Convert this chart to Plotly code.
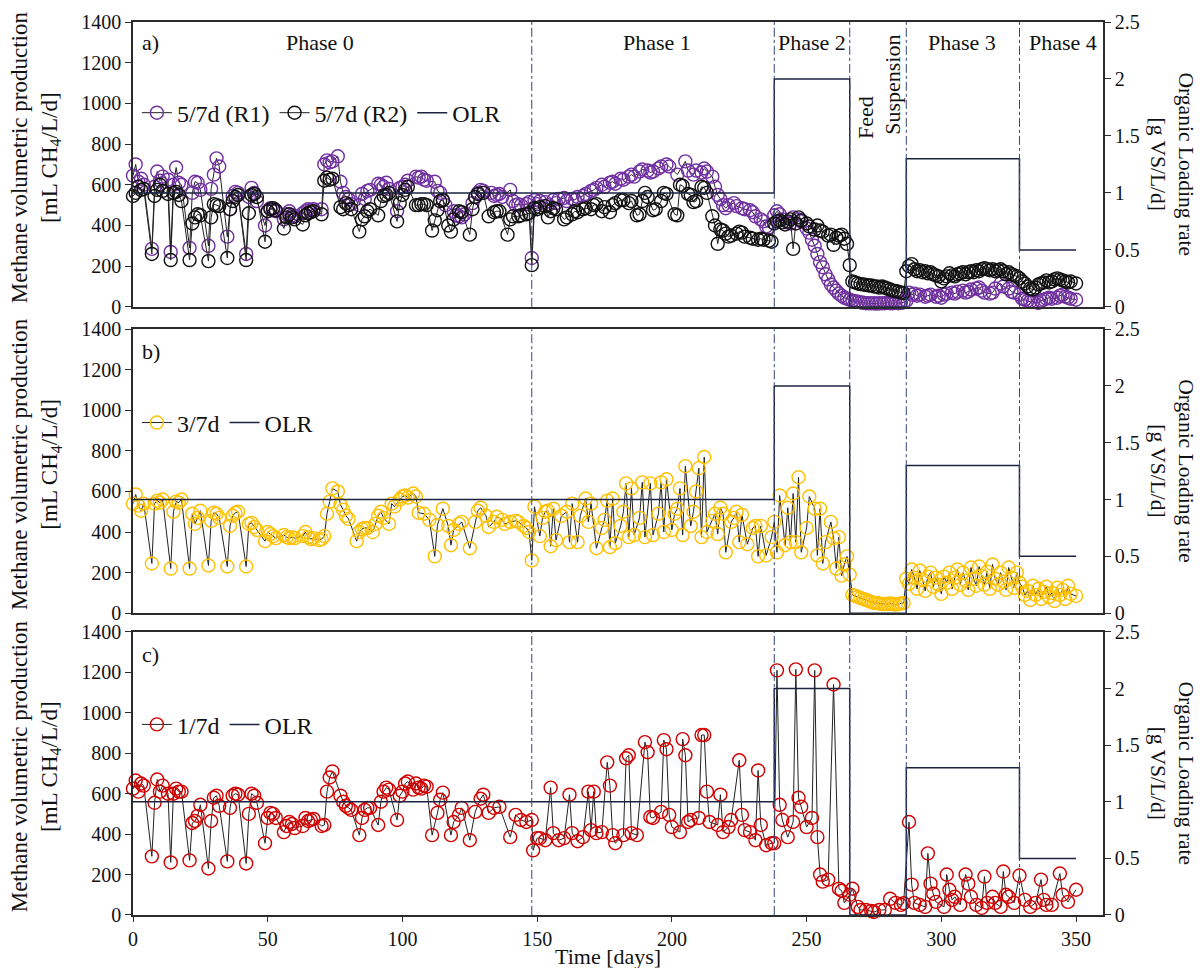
import plotly.graph_objects as go

# ---------------- DATA ----------------
# Organic loading rate steps (day, g VS/L/d)
olr_days = [0, 238, 266, 287, 329, 350]
olr_vals = [1.0, 2.0, 0.0, 1.3, 0.5, 0.5]

phase_bounds = [148, 238, 266, 287, 329]

# a) 5/7d R1 (day, mL CH4/L/d)
r1_pts = [(0,645),(1,700),(2,615),(3,630),(4,600),(7,285),(8,590),(9,665),(10,620),(11,640),(13,625),(14,270),(15,600),(16,685),(17,610),(18,600),(21,290),(22,560),(23,615),(24,610),(25,575),(28,300),(29,580),(30,650),(31,730),(32,690),(35,345),(36,480),(37,545),(38,565),(39,560),(42,260),(43,540),(44,585),(45,560),(46,520),(49,400),(50,470),(51,485),(52,475),(53,470),(56,430),(57,455),(58,470),(59,450),(60,445),(63,460),(64,470),(65,480),(66,475),(67,480),(70,480),(71,700),(72,720),(73,710),(74,715),(76,740),(77,615),(78,560),(79,540),(80,530),(81,505),(84,500),(85,555),(86,530),(87,570),(88,575),(91,605),(92,600),(93,590),(94,610),(95,580),(98,470),(99,585),(100,590),(101,600),(102,620),(105,640),(106,635),(107,640),(108,625),(109,620),(112,615),(113,570),(114,560),(115,525),(116,500),(119,470),(120,450),(121,445),(122,440),(123,455),(126,510),(127,540),(128,560),(129,575),(130,570),(133,560),(134,545),(135,550),(136,555),(137,540),(140,575),(141,520),(142,500),(143,505),(144,500),(146,505),(147,515),(148,240),(149,525),(150,505),(151,520),(153,515),(154,500),(156,525),(157,510),(158,530),(160,535),(161,520),(163,530),(164,525),(165,540),(167,545),(168,555),(170,570),(171,575),(172,585),(174,600),(175,590),(177,610),(178,615),(179,605),(181,630),(182,625),(184,640),(185,650),(186,640),(188,665),(189,675),(191,670),(192,660),(193,665),(195,680),(196,690),(198,700),(199,690),(202,650),(205,715),(206,670),(208,650),(209,670),(211,660),(212,680),(213,665),(215,640),(216,590),(217,550),(218,530),(219,500),(220,485),(221,500),(223,510),(224,495),(226,485),(227,480),(229,475),(230,465),(231,445),(233,430),(234,420),(235,395),(236,390),(238,450),(239,470),(240,455),(241,430),(243,415),(244,410),(245,440),(247,430),(248,420),(250,385),(251,365),(252,330),(253,300),(254,260),(255,220),(256,195),(257,160),(258,135),(259,110),(260,95),(261,80),(262,65),(263,55),(264,45),(265,40),(266,35),(267,30),(268,28),(269,25),(270,22),(271,20),(272,18),(273,18),(274,17),(275,18),(276,16),(277,18),(278,17),(279,18),(280,20),(281,18),(282,18),(283,20),(284,18),(285,20),(286,22),(287,30),(288,70),(289,60),(290,65),(291,55),(292,60),(294,50),(295,55),(296,60),(298,50),(299,55),(300,45),(301,60),(302,65),(304,70),(305,65),(306,75),(308,80),(309,70),(310,75),(311,85),(313,90),(314,95),(315,80),(316,70),(318,65),(319,70),(320,90),(322,115),(323,100),(325,90),(326,75),(327,70),(329,60),(330,40),(331,35),(332,30),(333,25),(334,25),(336,20),(337,30),(338,35),(339,40),(340,45),(341,40),(343,45),(344,55),(345,60),(346,50),(347,45),(348,40),(350,35)]

# a) 5/7d R2
r2_pts = [(0,545),(1,560),(2,590),(3,575),(4,580),(7,260),(8,545),(9,575),(10,600),(11,570),(13,555),(14,230),(15,560),(16,565),(17,550),(18,520),(21,230),(22,410),(23,440),(24,455),(25,450),(28,225),(29,440),(30,505),(31,500),(32,495),(35,240),(36,480),(37,520),(38,540),(39,550),(42,230),(43,460),(44,550),(45,555),(46,540),(49,320),(50,470),(51,480),(52,485),(53,475),(56,385),(57,440),(58,455),(59,440),(60,430),(63,405),(64,450),(65,460),(66,465),(67,470),(70,455),(71,620),(72,635),(73,625),(74,630),(77,490),(78,480),(79,510),(80,500),(81,480),(84,370),(85,430),(86,445),(87,470),(88,480),(91,450),(92,520),(93,545),(94,550),(95,560),(98,420),(99,510),(100,550),(101,575),(102,590),(105,500),(106,500),(107,505),(108,505),(109,500),(111,375),(112,425),(113,475),(114,520),(115,525),(117,400),(118,370),(119,430),(121,470),(122,465),(125,355),(126,480),(127,540),(128,555),(130,560),(132,445),(134,465),(135,470),(136,470),(139,355),(140,430),(141,445),(143,445),(144,450),(146,455),(147,460),(148,205),(149,485),(150,480),(151,490),(153,495),(154,440),(155,470),(156,485),(157,480),(160,430),(161,440),(163,455),(164,470),(165,465),(167,480),(168,485),(170,480),(171,500),(172,505),(174,470),(175,490),(177,465),(178,500),(179,510),(181,525),(182,525),(184,510),(185,520),(187,450),(188,455),(189,520),(190,560),(191,540),(193,475),(194,480),(196,520),(197,560),(198,555),(201,455),(202,450),(203,600),(204,595),(206,555),(207,550),(208,515),(209,520),(211,590),(212,585),(213,560),(215,445),(216,400),(217,310),(218,380),(219,375),(220,360),(221,345),(222,350),(224,360),(225,370),(226,365),(227,345),(229,340),(230,335),(232,330),(233,335),(234,330),(236,325),(237,320),(238,410),(239,420),(240,425),(241,415),(242,405),(243,420),(244,430),(245,285),(246,410),(247,440),(248,425),(250,410),(251,395),(253,380),(254,400),(255,375),(256,370),(258,350),(259,355),(260,305),(261,340),(262,350),(263,355),(264,335),(265,310),(266,205),(267,125),(268,120),(269,115),(270,112),(271,110),(272,108),(273,105),(274,105),(275,100),(276,100),(277,95),(278,100),(279,95),(280,90),(281,85),(282,80),(283,78),(284,75),(285,70),(286,68),(287,175),(288,200),(289,210),(290,185),(291,175),(292,180),(293,170),(294,175),(295,165),(296,170),(297,160),(298,155),(299,150),(300,125),(301,140),(302,150),(303,165),(304,155),(305,150),(306,160),(307,165),(308,170),(309,160),(310,170),(311,175),(312,170),(313,180),(314,175),(315,185),(316,190),(317,185),(318,180),(319,185),(320,175),(321,180),(322,185),(323,175),(324,160),(325,170),(326,160),(327,155),(328,150),(329,140),(330,125),(331,115),(332,100),(333,90),(334,85),(335,95),(336,110),(337,115),(338,120),(339,130),(340,120),(341,125),(342,135),(343,140),(344,135),(345,130),(346,125),(347,120),(348,125),(350,115)]

# b) 3/7d
b_pts = [(0,540),(1,585),(2,530),(3,505),(4,540),(7,245),(8,540),(9,555),(10,545),(11,560),(14,220),(15,500),(16,550),(17,545),(18,560),(21,220),(22,490),(23,440),(24,470),(25,505),(28,235),(29,455),(30,495),(31,490),(32,470),(35,230),(36,430),(37,480),(38,495),(39,500),(42,230),(43,440),(44,445),(45,425),(46,410),(49,355),(50,400),(51,390),(52,380),(53,370),(56,385),(57,375),(58,370),(59,375),(60,370),(63,380),(64,400),(65,375),(66,365),(67,370),(69,360),(70,365),(71,380),(72,490),(73,550),(74,615),(76,600),(77,535),(78,510),(79,480),(80,465),(83,355),(84,400),(85,415),(86,420),(87,420),(89,400),(90,440),(91,480),(92,500),(93,470),(95,440),(96,540),(97,525),(99,560),(100,575),(101,580),(102,570),(104,590),(105,575),(106,495),(108,490),(110,460),(112,280),(113,435),(115,515),(117,430),(118,335),(119,410),(121,440),(122,450),(125,320),(127,450),(128,505),(129,520),(131,480),(132,425),(134,450),(135,475),(137,460),(138,440),(140,450),(142,455),(143,450),(145,430),(146,420),(147,400),(148,260),(149,525),(151,380),(152,470),(153,500),(154,505),(155,330),(156,515),(157,360),(159,480),(161,500),(162,350),(163,540),(165,350),(166,480),(168,565),(169,450),(170,540),(172,320),(174,420),(175,460),(176,555),(177,325),(178,565),(179,345),(181,430),(182,500),(183,640),(184,375),(185,615),(186,385),(188,470),(189,645),(190,375),(192,640),(193,385),(195,490),(196,645),(197,400),(198,660),(200,410),(201,490),(202,515),(203,615),(204,385),(205,725),(207,430),(208,500),(209,600),(210,715),(211,375),(212,770),(213,400),(215,455),(216,490),(217,390),(218,520),(219,490),(220,300),(222,450),(223,470),(224,500),(225,350),(226,485),(228,340),(230,420),(231,430),(232,280),(233,430),(235,285),(237,375),(238,450),(239,300),(240,580),(242,335),(243,520),(244,350),(245,590),(246,350),(247,670),(248,300),(250,420),(251,575),(253,515),(254,285),(255,515),(256,245),(257,350),(259,450),(260,370),(261,220),(262,375),(263,185),(264,240),(265,280),(266,190),(267,90),(268,85),(269,80),(270,75),(271,70),(272,65),(273,60),(274,55),(275,50),(276,50),(277,48),(278,45),(279,45),(280,45),(281,48),(282,45),(283,42),(284,45),(285,48),(286,50),(287,170),(288,145),(289,215),(290,175),(291,120),(292,210),(293,165),(294,110),(295,180),(296,200),(297,130),(298,175),(299,140),(300,95),(301,180),(302,150),(303,200),(304,120),(305,175),(306,215),(307,140),(308,200),(309,160),(310,115),(311,225),(312,170),(313,135),(314,230),(315,185),(316,140),(317,205),(318,120),(319,240),(320,170),(321,140),(322,200),(323,155),(324,115),(325,225),(326,175),(327,125),(328,200),(329,150),(330,130),(331,90),(332,110),(333,65),(334,135),(335,90),(336,120),(337,70),(338,105),(339,130),(340,80),(341,100),(342,60),(343,125),(344,90),(345,115),(346,70),(347,135),(348,95),(350,85)]

# c) 1/7d
c_pts = [(0,625),(1,665),(2,610),(3,650),(4,640),(7,290),(8,555),(9,670),(10,610),(11,640),(13,600),(14,260),(15,600),(16,625),(17,610),(18,610),(21,270),(22,455),(23,465),(24,490),(25,545),(28,230),(29,465),(30,580),(31,590),(32,540),(35,265),(36,530),(37,590),(38,600),(39,595),(42,255),(43,500),(44,600),(45,590),(46,555),(49,355),(50,480),(51,505),(52,500),(53,480),(56,410),(57,440),(58,460),(59,450),(60,430),(63,440),(64,480),(65,465),(66,470),(67,475),(70,440),(71,445),(72,610),(73,680),(74,710),(77,590),(78,560),(79,540),(80,530),(81,520),(84,395),(85,480),(86,520),(87,530),(88,530),(91,445),(92,560),(93,610),(94,630),(95,620),(98,470),(99,590),(100,610),(101,650),(102,660),(104,620),(105,650),(106,630),(107,625),(108,640),(109,635),(111,395),(113,505),(114,570),(115,605),(118,395),(119,460),(121,495),(122,530),(125,370),(127,510),(129,575),(130,595),(132,505),(134,530),(136,535),(140,385),(142,495),(144,470),(146,460),(148,470),(148.5,320),(150,380),(151,380),(153,370),(155,630),(156,405),(158,370),(160,380),(162,595),(163,405),(165,365),(167,385),(169,610),(170,420),(171,610),(172,405),(174,410),(176,755),(177,640),(178,395),(179,355),(182,395),(183,775),(184,790),(185,405),(187,395),(190,855),(191,805),(192,485),(193,480),(196,510),(197,865),(198,820),(199,495),(200,435),(203,410),(204,870),(205,790),(206,460),(207,470),(210,480),(211,890),(212,890),(213,610),(214,460),(217,445),(218,595),(219,410),(221,435),(222,470),(225,765),(226,495),(227,420),(229,410),(231,370),(232,715),(233,445),(235,345),(237,355),(238,355),(239,1210),(240,545),(241,470),(243,385),(245,460),(246,1215),(247,580),(248,535),(250,435),(252,480),(253,1210),(254,385),(255,200),(256,165),(258,175),(260,1140),(262,130),(263,120),(264,60),(266,100),(267,130),(269,40),(270,25),(272,25),(274,20),(275,15),(277,25),(279,25),(281,80),(283,60),(285,50),(286,58),(288,460),(289,150),(290,60),(292,50),(294,40),(295,305),(296,155),(297,105),(298,65),(301,40),(302,200),(303,125),(304,75),(305,90),(307,50),(309,200),(310,155),(311,90),(313,50),(315,35),(316,190),(317,60),(319,90),(320,60),(322,40),(323,215),(324,100),(325,90),(327,60),(329,195),(331,75),(333,40),(335,60),(337,175),(338,75),(339,50),(341,50),(344,205),(345,100),(347,65),(350,125)]

x_ticks = [0, 50, 100, 150, 200, 250, 300, 350]

# ---------------- STYLE ----------------
FONT = "Liberation Serif"
FS_TICK = 20
FS_PHASE = 22
FS_LTITLE = 23
FS_RTITLE = 21.5
FS_LEG = 24
AX = "#2b2b2b"
OLR_COL = "#1c2440"
PH_COL = "#34457a"

def split(pts):
    return [p[0] for p in pts], [p[1] for p in pts]

fig = go.Figure()

def data_trace(pts, name, color, xa, ya, legend):
    xs, ys = split(pts)
    return go.Scatter(x=xs, y=ys, name=name, mode="lines+markers", xaxis=xa, yaxis=ya,
                      legend=legend, cliponaxis=False, legendrank=1,
                      line=dict(color="#222222", width=1),
                      marker=dict(symbol="circle-open", size=13, color=color, line=dict(width=1.4, color=color)))

def olr_trace(xa, ya, legend):
    return go.Scatter(x=olr_days, y=olr_vals, name="OLR", mode="lines", line_shape="hv",
                      xaxis=xa, yaxis=ya, legend=legend, cliponaxis=False, legendrank=2000,
                      line=dict(color=OLR_COL, width=1.5))

fig.add_trace(olr_trace("x", "y4", "legend"))
fig.add_trace(olr_trace("x2", "y5", "legend2"))
fig.add_trace(olr_trace("x3", "y6", "legend3"))
fig.add_trace(data_trace(r1_pts, "5/7d (R1)", "#7030A0", "x", "y", "legend"))
fig.add_trace(data_trace(r2_pts, "5/7d (R2)", "#111111", "x", "y", "legend"))
fig.add_trace(data_trace(b_pts, "3/7d", "#FFC000", "x2", "y2", "legend2"))
fig.add_trace(data_trace(c_pts, "1/7d", "#D00000", "x3", "y3", "legend3"))

doms = {"a": [0.681, 1.0], "b": [0.338, 0.656], "c": [0.0, 0.317]}
tickfont = dict(family=FONT, size=FS_TICK, color="#111")

def xax(anchor, show):
    d = dict(domain=[0, 1], anchor=anchor, range=[0, 360], showline=True, linecolor=AX, linewidth=1.5,
             mirror=True, showgrid=False, zeroline=False, tickfont=tickfont)
    if show:
        d.update(tickvals=x_ticks, ticks="outside", ticklen=5, tickcolor=AX, showticklabels=True)
    else:
        d.update(ticks="", showticklabels=False)
    return d

def yleft(dom, anchor):
    return dict(domain=dom, anchor=anchor, range=[0, 1400], dtick=200, ticks="outside", ticklen=6,
                tickcolor=AX, showline=True, linecolor=AX, linewidth=1.5, showgrid=False, zeroline=False,
                tickfont=tickfont)

def yright(overlay, anchor):
    return dict(overlaying=overlay, anchor=anchor, side="right", range=[0, 2.5], tickvals=[0, 0.5, 1, 1.5, 2, 2.5],
                ticktext=["0", "0.5", "1", "1.5", "2", "2.5"], ticks="outside", ticklen=6, tickcolor=AX,
                showline=True, linecolor=AX, linewidth=1.5, showgrid=False, zeroline=False, tickfont=tickfont)

leg_common = dict(orientation="h", xanchor="left", yanchor="middle", bgcolor="rgba(0,0,0,0)",
                  font=dict(family=FONT, size=FS_LEG, color="#111"), itemwidth=30, traceorder="normal")

fig.update_layout(
    width=1204, height=968,
    margin=dict(l=133, r=101, t=22, b=53),
    paper_bgcolor="white", plot_bgcolor="white",
    font=dict(family=FONT, size=FS_TICK, color="#111"),
    xaxis=xax("y", False), xaxis2=xax("y2", False), xaxis3=xax("y3", True),
    yaxis=yleft(doms["a"], "x"), yaxis2=yleft(doms["b"], "x2"), yaxis3=yleft(doms["c"], "x3"),
    yaxis4=yright("y", "x"), yaxis5=yright("y2", "x2"), yaxis6=yright("y3", "x3"),
    legend=dict(x=0.004, y=0.898, **leg_common),
    legend2=dict(x=0.004, y=0.551, **leg_common),
    legend3=dict(x=0.004, y=0.213, **leg_common),
    showlegend=True,
)

# phase boundary lines
shapes = []
for yref in ["y domain", "y2 domain", "y3 domain"]:
    xr = {"y domain": "x", "y2 domain": "x2", "y3 domain": "x3"}[yref]
    for b in phase_bounds:
        shapes.append(dict(type="line", xref=xr, yref=yref, x0=b, x1=b, y0=0, y1=1,
                           line=dict(color=PH_COL, width=1, dash="dashdot")))
fig.update_layout(shapes=shapes)

ann = []
af = dict(family=FONT, size=FS_PHASE, color="#111")
# panel letters
for lab, yr, yv in [("a)", "y", 1297), ("b)", "y2", 1290), ("c)", "y3", 1290)]:
    xr = {"y": "x", "y2": "x2", "y3": "x3"}[yr]
    ann.append(dict(text=lab, xref=xr, yref=yr, x=2.5, y=yv, showarrow=False, xanchor="left", font=af))
# phase labels
for txt, xv in [("Phase 0", 69.5), ("Phase 1", 194.5), ("Phase 2", 252), ("Phase 3", 307.5), ("Phase 4", 345)]:
    ann.append(dict(text=txt, xref="x", yref="y", x=xv, y=1297, showarrow=False, font=af))
ann.append(dict(text="Feed", xref="x", yref="y", x=271.8, y=930, showarrow=False, textangle=-90, font=af))
ann.append(dict(text="Suspension", xref="x", yref="y", x=281.6, y=1090, showarrow=False, textangle=-90, font=af))

# axis titles
ltf = dict(family=FONT, size=FS_LTITLE, color="#111")
rtf = dict(family=FONT, size=FS_RTITLE, color="#111")
for dom in doms.values():
    mid = (dom[0] + dom[1]) / 2
    ann.append(dict(text="Methane volumetric production<br>[mL CH<sub>4</sub>/L/d]", xref="paper", yref="paper",
                    x=-0.100, y=mid + 0.008, showarrow=False, textangle=-90, font=ltf, xanchor="center", yanchor="middle"))
    ann.append(dict(text="Organic Loading rate<br>[g VS/L/d]", xref="paper", yref="paper",
                    x=1.071, y=mid, showarrow=False, textangle=90, font=rtf, xanchor="center", yanchor="middle"))
ann.append(dict(text="Time [days]", xref="paper", yref="paper", x=0.49, y=-0.0465, showarrow=False,
                font=dict(family=FONT, size=22, color="#111"), xanchor="center", yanchor="middle"))
fig.update_layout(annotations=ann)

fig.write_html("out.html")
